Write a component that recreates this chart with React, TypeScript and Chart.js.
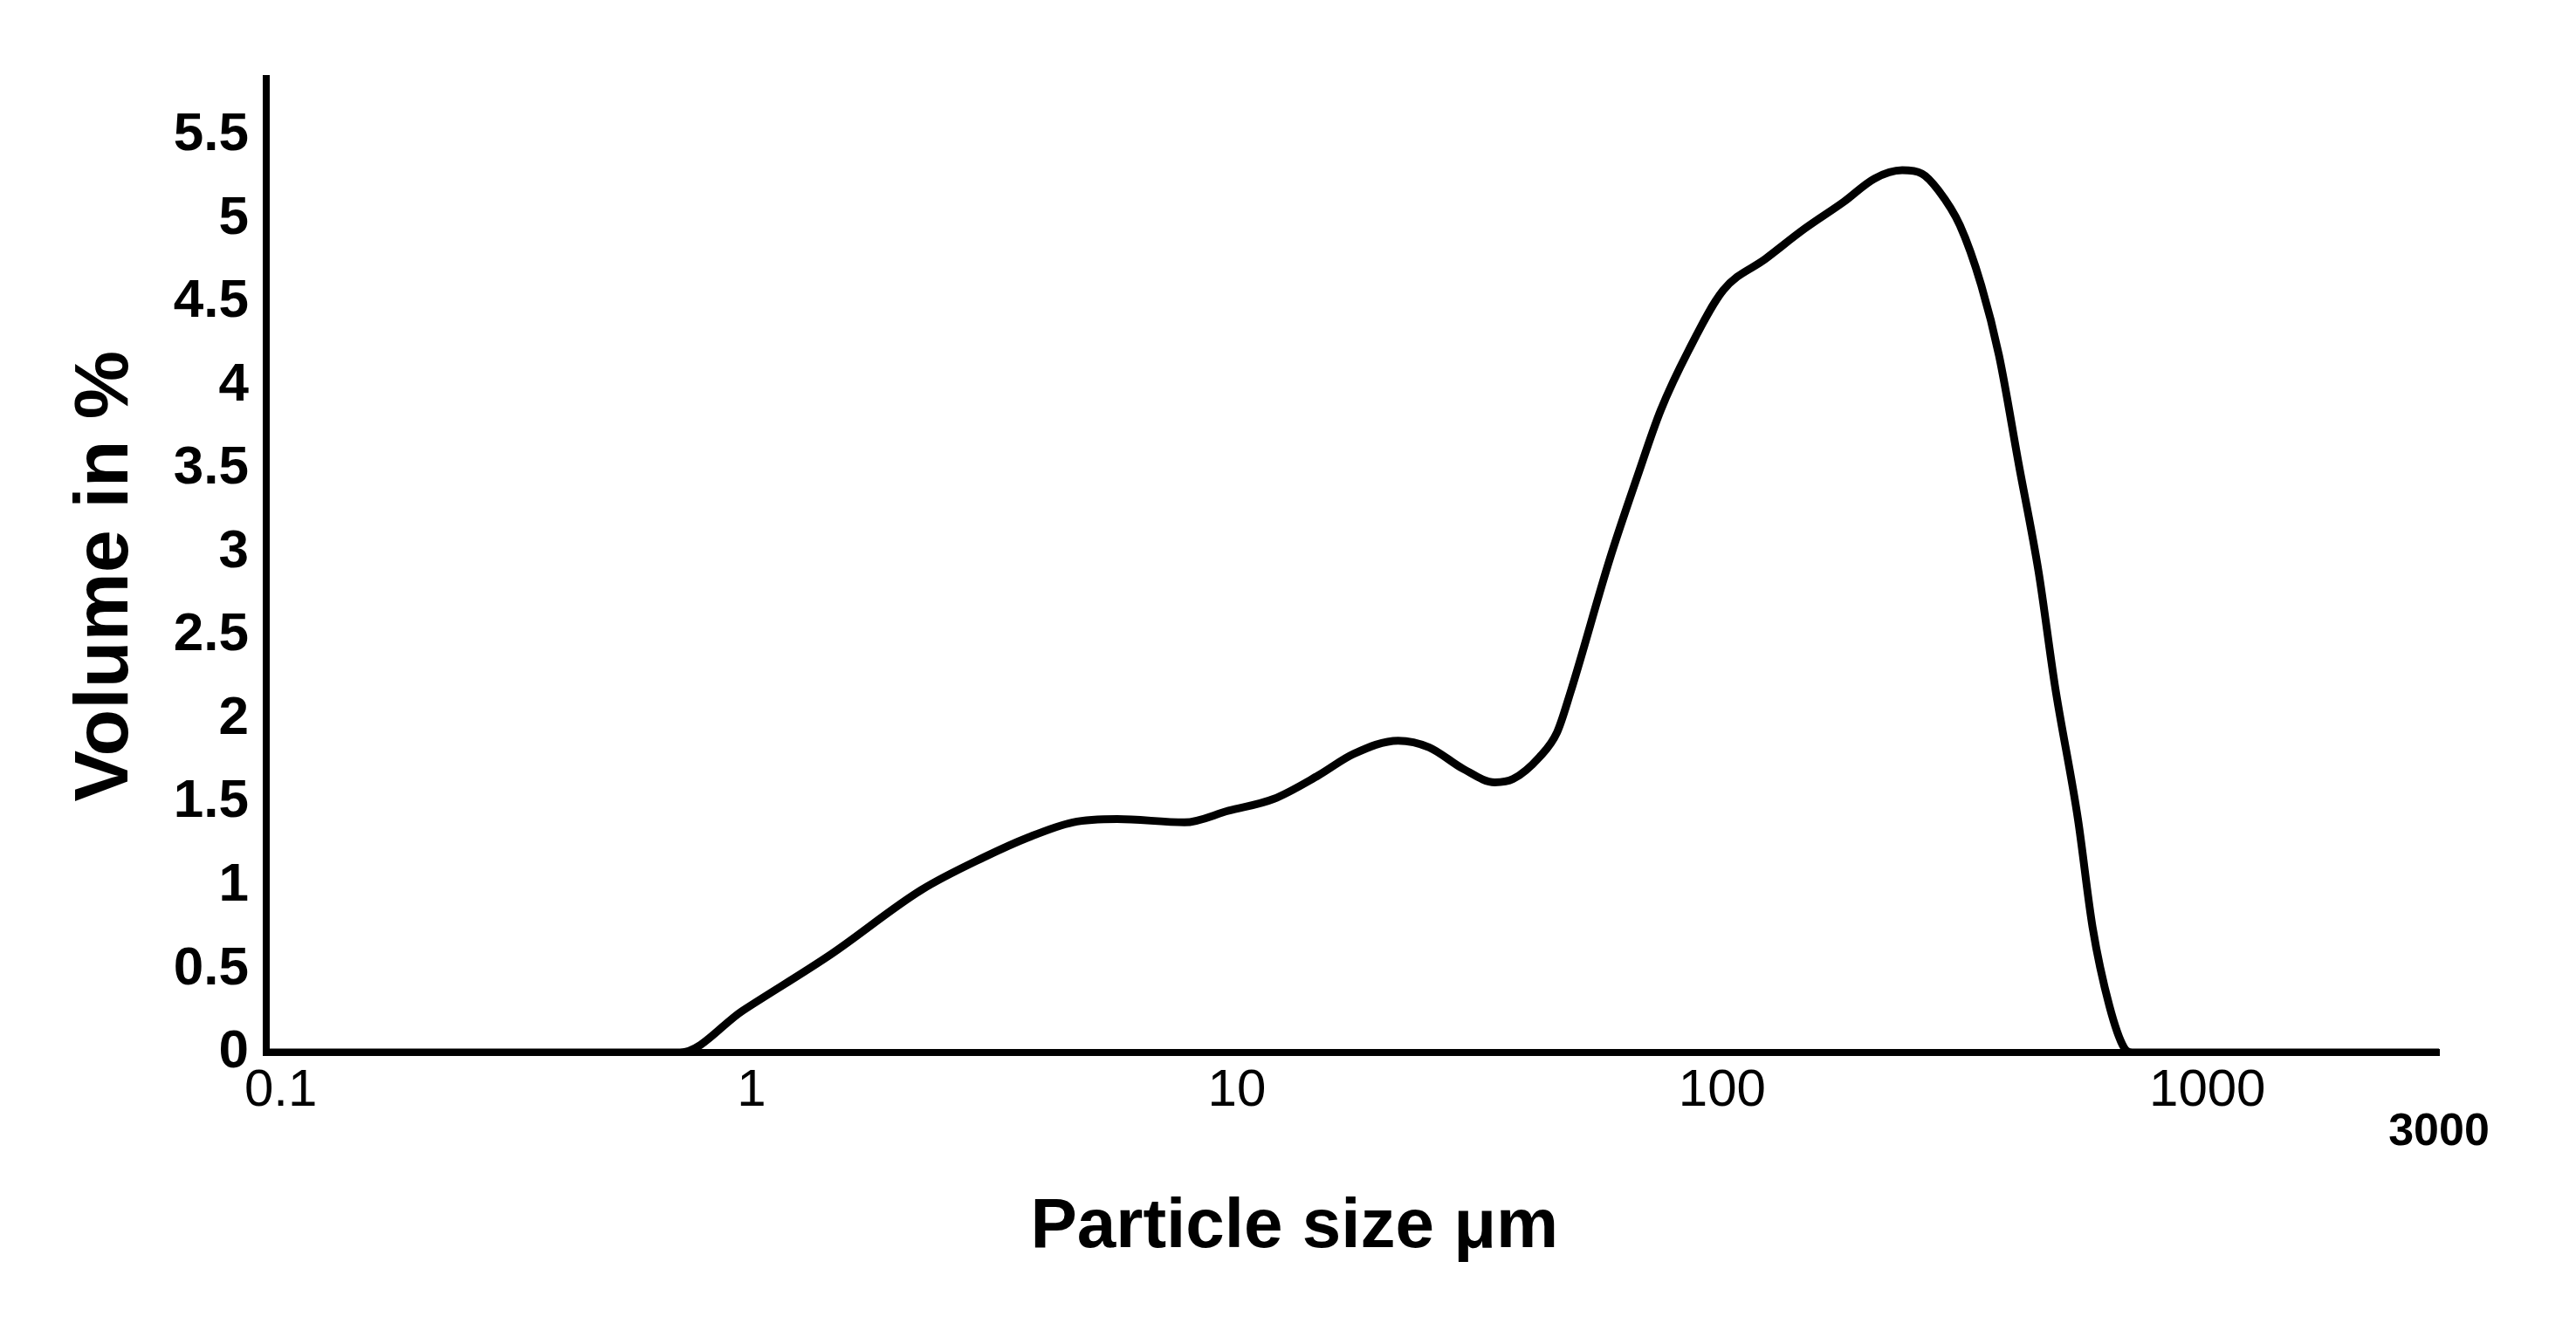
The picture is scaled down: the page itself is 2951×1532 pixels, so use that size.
import React, { useEffect, useRef } from 'react';
import { Chart, registerables } from 'chart.js';

Chart.register(...registerables);

// Particle size (µm)
const particleSizeUm = [
  0.1, 0.712, 0.958, 1.46, 2.24, 3.01, 3.72, 4.59, 5.67, 7.8,
  9.62, 11.9, 14.7, 17.4, 21.5, 24.9, 29.3, 34.0, 37.1, 42.0,
  45.7, 48.7, 58.7, 67.0, 74.7, 85.3, 100.5, 123, 148, 178,
  206, 235, 258, 279, 309, 342, 372, 409, 449, 485,
  541, 580, 628, 673, 700, 3000,
];

// Volume in %
const volumePercent = [
  0, 0, 0.25, 0.59, 0.975, 1.17, 1.29, 1.38, 1.4, 1.38,
  1.45, 1.52, 1.66, 1.79, 1.87, 1.83, 1.7, 1.62, 1.64, 1.77,
  1.92, 2.16, 2.96, 3.46, 3.85, 4.21, 4.57, 4.76, 4.94, 5.1,
  5.24, 5.29, 5.27, 5.17, 4.96, 4.6, 4.18, 3.52, 2.88, 2.2,
  1.4, 0.75, 0.28, 0.03, 0, 0,
];

const xTickValues = [0.1, 1, 10, 100, 1000, 3000];
const yTickValues = [0, 0.5, 1, 1.5, 2, 2.5, 3, 3.5, 4, 4.5, 5, 5.5];

const xTitle = 'Particle size μm';
const yTitle = 'Volume in %';

const SANS = "'Liberation Sans', Arial, sans-serif";

export default function App() {
  const canvasRef = useRef<HTMLCanvasElement | null>(null);

  useEffect(() => {
    if (!canvasRef.current) return;
    const chart = new Chart(canvasRef.current, {
      type: 'line',
      data: {
        datasets: [
          {
            data: particleSizeUm.map((x, i) => ({ x, y: volumePercent[i] })),
            borderColor: '#000',
            borderWidth: 9,
            pointRadius: 0,
            fill: false,
            cubicInterpolationMode: 'monotone',
          },
        ],
      },
      options: {
        animation: false,
        responsive: false,
        devicePixelRatio: 1,
        layout: { padding: { left: 0, top: 90, right: 157, bottom: 26 } },
        plugins: { legend: { display: false }, tooltip: { enabled: false } },
        scales: {
          x: {
            type: 'logarithmic',
            min: 0.1,
            max: 3000,
            afterBuildTicks: (s: any) => {
              s.ticks = xTickValues.map((v) => ({ value: v }));
            },
            afterFit: (s: any) => {
              s.height = 300;
            },
            grid: { display: false, drawTicks: false },
            border: { display: true, color: '#000', width: 8 },
            ticks: {
              autoSkip: false,
              maxRotation: 0,
              minRotation: 0,
              padding: 14,
              color: '#000',
              font: (ctx: any) =>
                ctx.tick && ctx.tick.value === 3000
                  ? { family: SANS, size: 52, weight: 'bold', lineHeight: 1.0 }
                  : { family: SANS, size: 60, weight: 'normal', lineHeight: 1 },
              callback: (v: any) => {
                const n = Number(v);
                if (n === 3000) return ['', '3000'];
                if (n === 0.1) return '  0.1';
                return String(n);
              },
            },
            title: {
              display: true,
              text: xTitle + '      ',
              color: '#000',
              font: { family: SANS, size: 80, weight: 'bold', lineHeight: 1.2 },
              padding: { top: 0, bottom: 51 },
            },
          },
          y: {
            type: 'linear',
            min: 0,
            max: 5.84,
            afterBuildTicks: (s: any) => {
              s.ticks = yTickValues.map((v) => ({ value: v }));
            },
            afterFit: (s: any) => {
              s.width = 305;
            },
            grid: { display: false, drawTicks: false },
            border: { display: true, color: '#000', width: 8 },
            ticks: {
              padding: 20,
              color: '#000',
              font: { family: SANS, size: 62, weight: 'bold' },
              callback: (v: any) => String(v),
            },
            title: {
              display: true,
              text: yTitle + ' ',
              color: '#000',
              font: { family: SANS, size: 88, weight: 'bold', lineHeight: 1.2 },
              padding: { top: 69, bottom: 0 },
            },
          },
        },
      },
    } as any);
    return () => chart.destroy();
  }, []);

  return (
    <div style={{ position: 'absolute', left: 0, top: 0, width: 2951, height: 1532, background: '#fff' }}>
      <canvas ref={canvasRef} width={2951} height={1532} style={{ display: 'block' }} />
    </div>
  );
}
